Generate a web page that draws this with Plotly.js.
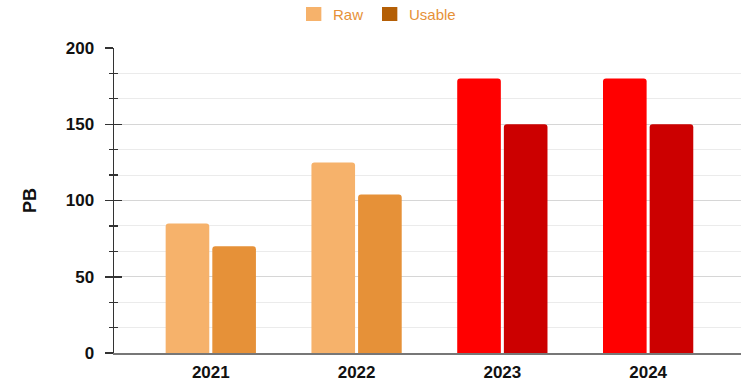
<!DOCTYPE html>
<html><head><meta charset="utf-8">
<script src="https://cdn.plot.ly/plotly-3.0.1.min.js"></script>
<style>html,body{margin:0;padding:0;background:#fff}#chart{width:741px;height:383px}</style>
</head><body><div id="chart"></div>
<script>
const years = ['2021','2022','2023','2024'];
const rawValues = [85, 125, 180, 180];
const usableValues = [70, 104, 150, 150];
const rawColors = ['#F6B26B','#F6B26B','#FF0000','#FF0000'];
const usableColors = ['#E69138','#E69138','#CC0000','#CC0000'];
const legendNames = ['Raw','Usable'];
const legendColors = ['#F6B26B','#B45F06'];

const font = 'Liberation Sans, Arial, sans-serif';
const data = [
  {type:'bar', x:years, y:rawValues, name:legendNames[0], marker:{color:rawColors}, showlegend:false},
  {type:'bar', x:years, y:usableValues, name:legendNames[1], marker:{color:usableColors}, showlegend:false},
  {type:'scatter', x:[], y:[], yaxis:'y2', showlegend:false}
];

// legend drawn as shapes + annotations (paper coordinates)
const legendX = [0.3062, 0.4274];
const swatchW = 0.0245, swatchTop = 1.1344, swatchBot = 1.0885;
const shapes = legendX.map((x0,i)=>({type:'rect', xref:'paper', yref:'paper', x0:x0, x1:x0+swatchW, y0:swatchBot, y1:swatchTop,
  fillcolor:legendColors[i], line:{width:0}}));
const annotations = legendX.map((x0,i)=>({xref:'paper', yref:'paper', x:x0+swatchW+0.016, y:(swatchTop+swatchBot)/2,
  xanchor:'left', yanchor:'middle', showarrow:false, text:legendNames[i], font:{size:15, family:font, color:'#E69138'}}));

const layout = {
  width:741, height:383,
  margin:{l:114, r:0, t:48, b:30},
  paper_bgcolor:'#fff', plot_bgcolor:'#fff',
  font:{family:font, color:'#000'},
  barmode:'group', bargap:0.36, bargroupgap:0.065, barcornerradius:3,
  showlegend:false,
  shapes:shapes, annotations:annotations,
  xaxis:{type:'category', range:[-0.664, 3.637], showline:true, linecolor:'#777', linewidth:1.5,
         ticks:'', ticklabelstandoff:3, tickfont:{size:17, family:font, weight:'bold', color:'#111'}, showgrid:false, zeroline:false},
  yaxis:{range:[0,200], dtick:50, tick0:0, showline:true, linecolor:'#333', linewidth:1.5,
         ticks:'outside', ticklen:8, tickwidth:1.5, tickcolor:'#333', ticklabelstandoff:7,
         tickfont:{size:17, family:font, weight:'bold', color:'#111'},
         showgrid:true, gridcolor:'#d6d6d6', gridwidth:1, zeroline:false,
         minor:{dtick:50/3, tick0:0, ticks:'outside', ticklen:4, tickwidth:1.2, tickcolor:'#333', showgrid:true, gridcolor:'#ebebeb', gridwidth:1},
         title:{text:'PB', font:{size:18, family:font, weight:'bold', color:'#111'}, standoff:24}},
  yaxis2:{overlaying:'y', side:'left', range:[0,200], dtick:50, tick0:0, showline:false, showgrid:false, zeroline:false,
          ticks:'inside', ticklen:8, tickwidth:1.5, tickcolor:'#333', showticklabels:false,
          minor:{dtick:50/3, tick0:0, ticks:'inside', ticklen:4, tickwidth:1.2, tickcolor:'#333', showgrid:false}}
};
Plotly.newPlot('chart', data, layout, {displayModeBar:false, staticPlot:true});
</script></body></html>
